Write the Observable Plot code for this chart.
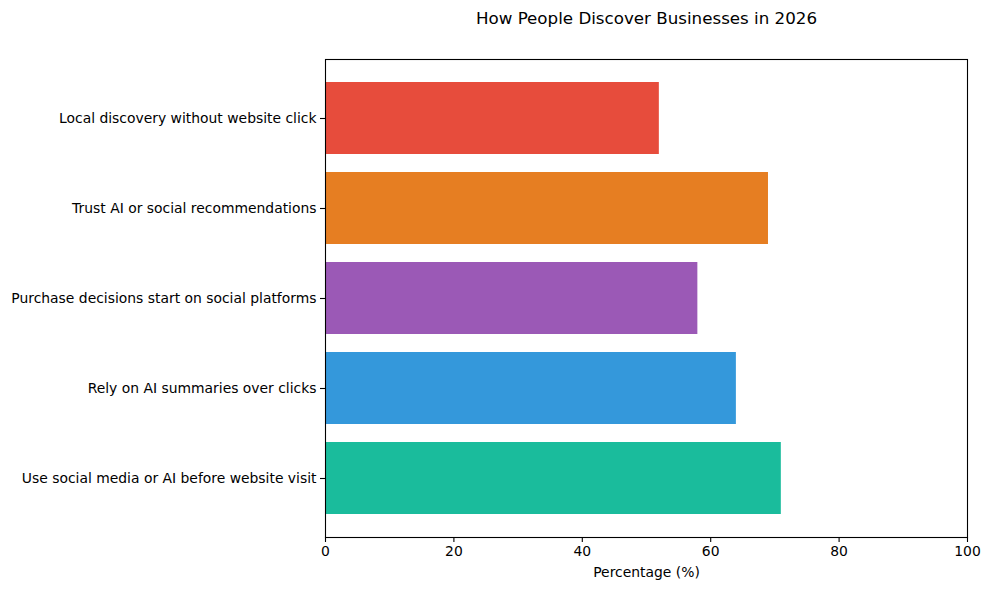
<!DOCTYPE html>
<html>
<head>
<meta charset="utf-8">
<script src="https://cdn.jsdelivr.net/npm/d3@7"></script>
<script src="https://cdn.jsdelivr.net/npm/@observablehq/plot@0.6"></script>
<style>
  html, body { margin: 0; padding: 0; background: #fff; }
  #chart svg { font-family: "DejaVu Sans", sans-serif; }
</style>
</head>
<body>
<div id="chart"></div>
<script>
// Data (matplotlib order: first item at bottom)
const categories = [
  "Use social media or AI before website visit",
  "Rely on AI summaries over clicks",
  "Purchase decisions start on social platforms",
  "Trust AI or social recommendations",
  "Local discovery without website click"
];
const values = [71, 64, 58, 69, 52];
const colors = ["#1abc9c", "#3498db", "#9b59b6", "#e67e22", "#e74c3c"];
const xTicks = [0, 20, 40, 60, 80, 100];
const title = "How People Discover Businesses in 2026";
const xLabel = "Percentage (%)";

const data = categories.map((c, i) => ({category: c, value: values[i], color: colors[i]}));
const yDomain = categories.slice().reverse();

const chart = Plot.plot({
  width: 989,
  height: 590,
  marginLeft: 325,
  marginRight: 22,
  marginTop: 59,
  marginBottom: 53,
  style: {fontFamily: "DejaVu Sans, sans-serif", fontSize: "13.9px", color: "#000", background: "#fff", overflow: "visible"},
  x: {domain: [0, 100]},
  y: {domain: yDomain, paddingInner: 0.2, paddingOuter: 0.24},
  marks: [
    Plot.barX(data, {x: "value", y: "category", fill: "color"}),
    Plot.frame({stroke: "#000", strokeWidth: 1.1}),
    Plot.axisX({ticks: xTicks, tickSize: 5, tickPadding: 4, label: null, fontSize: 13.9, stroke: "#000", strokeWidth: 1.1}),
    Plot.axisY({tickSize: 5, tickPadding: 4, label: null, fontSize: 13.9, stroke: "#000", strokeWidth: 1.1}),
    Plot.text([title], {frameAnchor: "top", dy: -41, fontSize: 16.7, fill: "#000", lineAnchor: "middle"}),
    Plot.text([xLabel], {frameAnchor: "bottom", dy: 35, fontSize: 13.9, fill: "#000", lineAnchor: "middle"})
  ]
});
document.getElementById("chart").appendChild(chart);
</script>
</body>
</html>
